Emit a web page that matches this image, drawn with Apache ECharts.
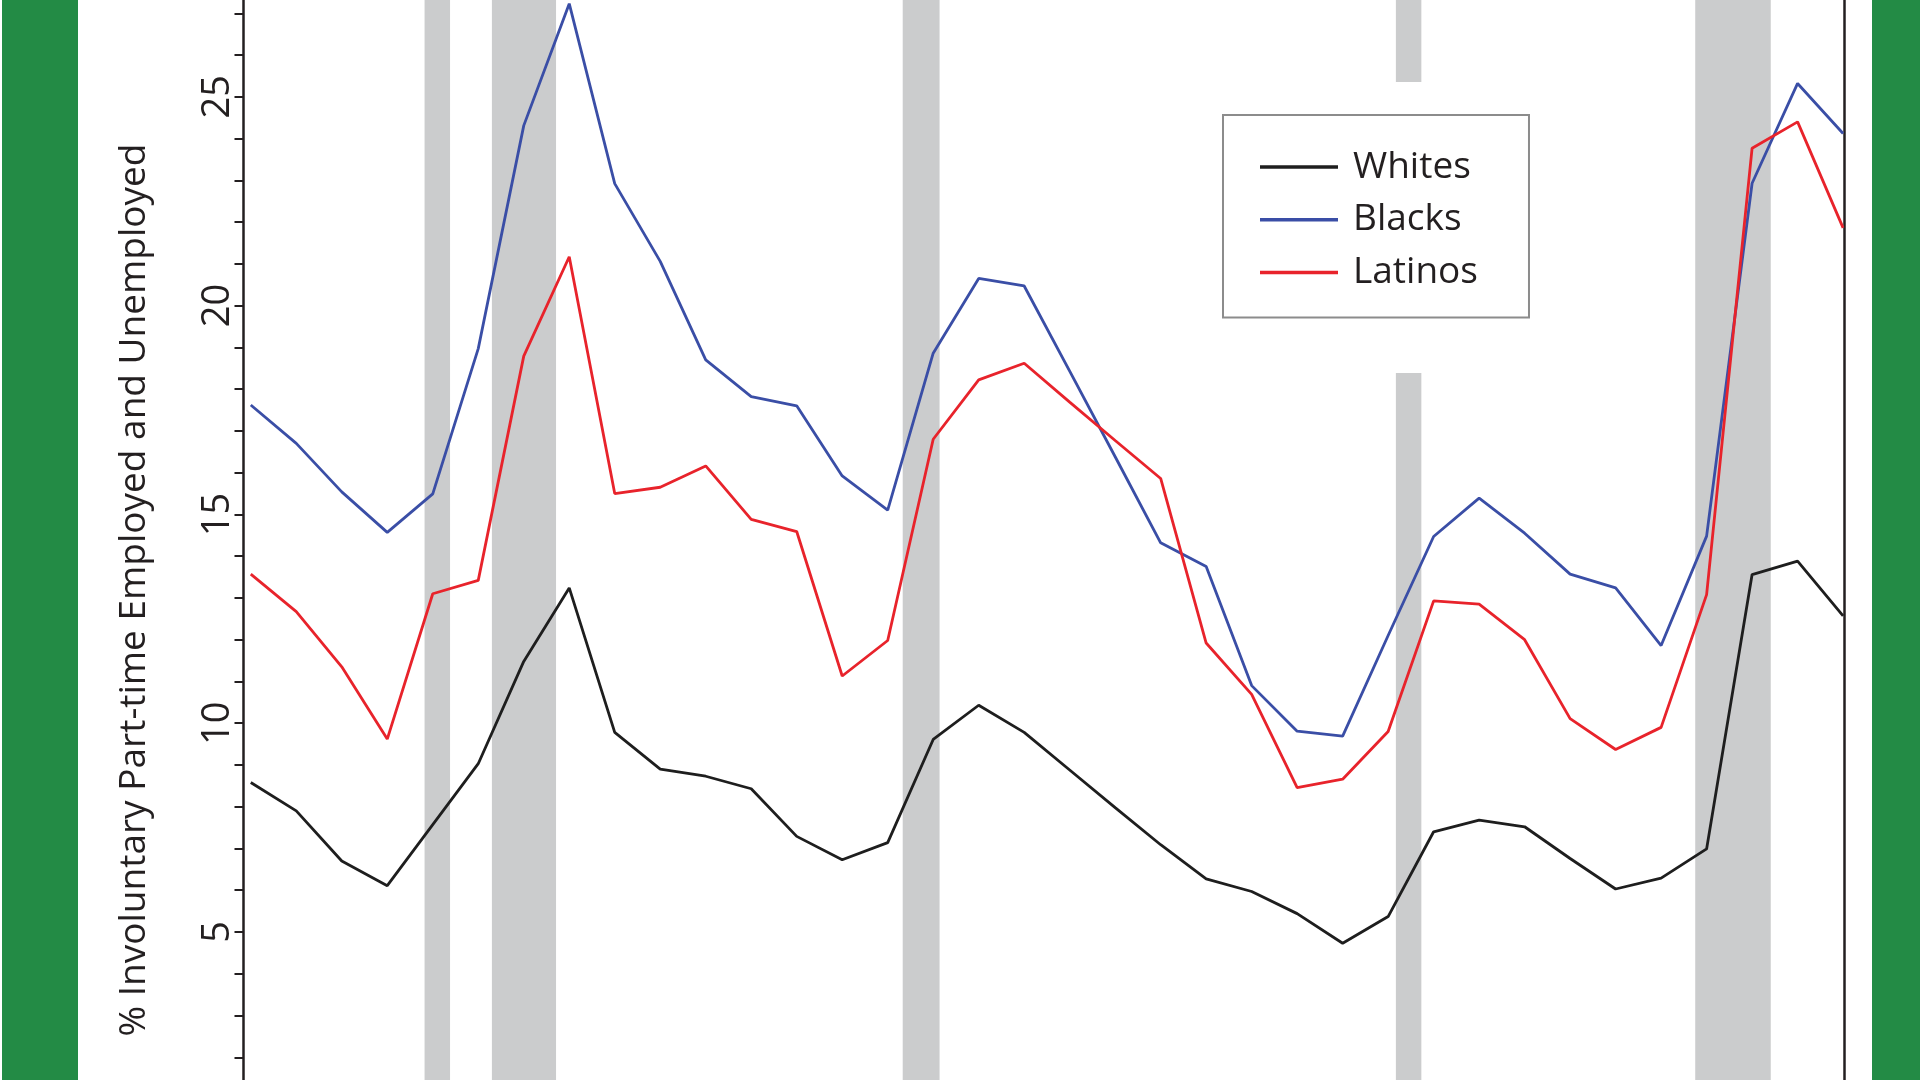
<!DOCTYPE html>
<html>
<head>
<meta charset="utf-8">
<script src="https://cdn.jsdelivr.net/npm/echarts@6/dist/echarts.min.js"></script>
<style>
  html, body { margin: 0; padding: 0; background: #ffffff; }
  #chart { width: 1920px; height: 1080px; }
</style>
</head>
<body>
<div id="chart"></div>
<script>
// ---- data ----
const years = [1976,1977,1978,1979,1980,1981,1982,1983,1984,1985,1986,1987,1988,1989,1990,
  1991,1992,1993,1994,1995,1996,1997,1998,1999,2000,2001,2002,2003,2004,2005,2006,2007,2008,2009,2010,2011];

const whites = [8.58,7.90,6.70,6.11,7.57,9.03,11.48,13.24,9.78,8.90,8.73,8.43,7.29,6.73,7.14,
  9.61,10.43,9.78,8.88,7.98,7.09,6.27,5.97,5.44,4.73,5.37,7.40,7.68,7.52,6.76,6.03,6.29,6.99,13.56,13.88,12.57];

const blacks = [17.62,16.70,15.54,14.57,15.49,18.97,24.31,27.23,22.92,21.06,18.70,17.82,17.60,15.92,15.10,
  18.86,20.65,20.47,18.43,16.38,14.32,13.75,10.90,9.81,9.69,12.10,14.47,15.39,14.55,13.57,13.24,11.86,14.48,22.93,25.32,24.12];

const latinos = [13.57,12.67,11.35,9.62,13.10,13.42,18.79,21.17,15.50,15.65,16.16,14.88,14.59,11.13,11.98,
  16.80,18.22,18.62,17.69,16.77,15.86,11.92,10.69,8.46,8.66,9.80,12.93,12.85,12.00,10.11,9.37,9.90,13.08,23.77,24.40,21.86];

const seriesNames = ['Whites', 'Blacks', 'Latinos'];

// recession periods (fractional years)
const recessionStart = [1979.82, 1981.30, 1990.33, 2001.17, 2007.75];
const recessionEnd   = [1980.38, 1982.71, 1991.14, 2001.73, 2009.41];

// visible y range (the plot is cropped at top and bottom)
const yMin = 1.456;
const yMax = 27.318;
const yTickValues = [2,3,4,5,6,7,8,9,10,11,12,13,14,15,16,17,18,19,20,21,22,23,24,25,26,27];
const yTickLabels = [5, 10, 15, 20, 25];
const yTitle = '% Involuntary Part-time Employed and Unemployed';

// ---- chart ----
const FONT = '"Open Sans", "Noto Sans", sans-serif';
const TEXT = '#231f20';
const colors = ['#1e1e1e', '#3a4ea6', '#e8232b'];

function pairs(arr) { return years.map((y, i) => [y, arr[i]]); }

const chart = echarts.init(document.getElementById('chart'), null, { renderer: 'canvas' });

const option = {
  backgroundColor: '#ffffff',
  animation: false,
  grid: { left: 243.5, right: 76, top: 0, bottom: 0, show: false },
  xAxis: {
    type: 'value', min: 1975.84, max: 2011.02,
    show: false, splitLine: { show: false }
  },
  yAxis: [
    {
      type: 'value', min: yMin, max: yMax, position: 'left',
      axisLine: { show: true, lineStyle: { color: TEXT, width: 2.5 } },
      axisTick: { show: true, inside: false, length: 9, customValues: yTickValues,
        lineStyle: { color: TEXT, width: 2 } },
      splitLine: { show: false },
      axisLabel: {
        customValues: yTickLabels,
        rotate: 90, margin: 6, fontSize: 38, fontFamily: FONT, color: TEXT
      }
    },
    {
      type: 'value', min: yMin, max: yMax, position: 'right',
      axisLine: { show: true, lineStyle: { color: TEXT, width: 2.5 } },
      axisTick: { show: false }, axisLabel: { show: false }, splitLine: { show: false }
    }
  ],
  legend: {
    data: seriesNames,
    orient: 'vertical',
    left: 1223, top: 115,
    padding: [33.5, 51, 26.4, 37],
    icon: 'rect', itemWidth: 78, itemHeight: 3.5, itemGap: 15.8,
    backgroundColor: '#ffffff',
    borderColor: '#8c8c8c', borderWidth: 2,
    textStyle: { fontSize: 37, lineHeight: 37, fontFamily: FONT, color: TEXT, width: 120, padding: [0, 0, 0, 10] },
    selectedMode: false
  },
  graphic: [
    { type: 'rect', left: 2, top: 0, shape: { width: 76, height: 1080 }, style: { fill: '#238b45' }, z: 10 },
    { type: 'rect', left: 1872, top: 0, shape: { width: 48, height: 1080 }, style: { fill: '#238b45' }, z: 10 },
    { type: 'rect', left: 1385, top: 82, shape: { width: 50, height: 291 }, style: { fill: '#ffffff' }, z: 2 },
    {
      type: 'text', x: 134, y: 590, rotation: Math.PI / 2, z: 10,
      style: { text: yTitle, font: '37px ' + FONT, fill: TEXT, textAlign: 'center', textVerticalAlign: 'middle' }
    }
  ],
  series: [
    {
      name: '__recessions', type: 'line', data: [], z: 1, silent: true,
      markArea: {
        silent: true,
        itemStyle: { color: '#cbcccd' },
        data: recessionStart.map((s, i) => [{ xAxis: s }, { xAxis: recessionEnd[i] }])
      }
    },
    { name: seriesNames[0], type: 'line', data: pairs(whites), showSymbol: false, z: 3,
      lineStyle: { color: colors[0], width: 2.8 }, itemStyle: { color: colors[0] } },
    { name: seriesNames[1], type: 'line', data: pairs(blacks), showSymbol: false, z: 3,
      lineStyle: { color: colors[1], width: 2.8 }, itemStyle: { color: colors[1] } },
    { name: seriesNames[2], type: 'line', data: pairs(latinos), showSymbol: false, z: 3,
      lineStyle: { color: colors[2], width: 2.8 }, itemStyle: { color: colors[2] } }
  ]
};

chart.setOption(option);
</script>
</body>
</html>
